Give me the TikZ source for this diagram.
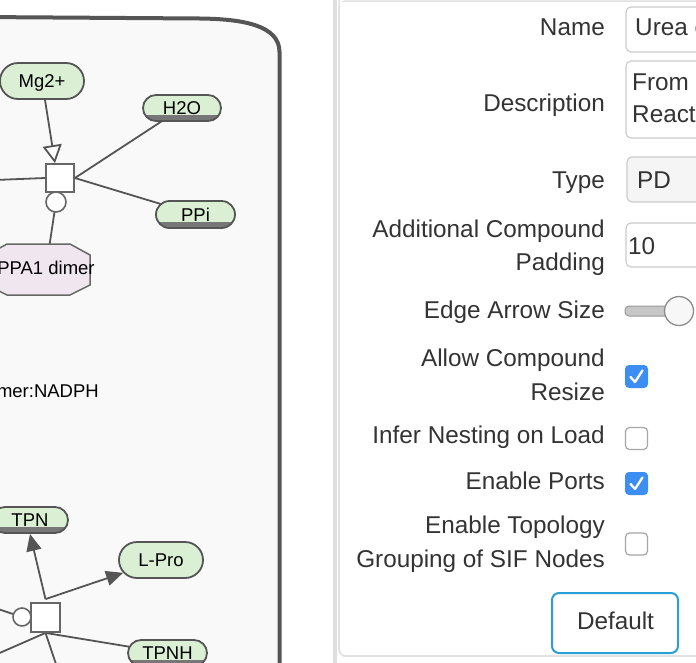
\documentclass[tikz,border=0pt]{standalone}
\usepackage{fontspec}
\setmainfont{Liberation Sans}
\usetikzlibrary{arrows.meta,shapes.misc}
\pgfdeclarelayer{back}
\pgfdeclarelayer{edges}
\pgfsetlayers{back,edges,main}
\definecolor{edgecol}{HTML}{555555}
\definecolor{compfill}{HTML}{F9F9F9}
\definecolor{pillfill}{HTML}{DAEFD4}
\definecolor{clonecol}{HTML}{777777}
\definecolor{octfill}{HTML}{F0E6F0}
\definecolor{txtcol}{HTML}{333333}
\definecolor{boxline}{HTML}{CCCCCC}
\definecolor{chkblue}{HTML}{3C8EF3}
\definecolor{btnblue}{HTML}{2A9FD6}
\definecolor{divcol}{HTML}{DEDEDE}
\tikzset{
  dfont/.style={font=\fontsize{18.5}{22}\selectfont},
  pfont/.style={font=\fontsize{24.3}{28}\selectfont, text=txtcol},
  pill/.style={rounded rectangle, draw=edgecol, line width=1.8pt, fill=pillfill, inner sep=0pt, dfont, text height=13.2pt, text depth=0pt},
  clone/.style={path picture={\fill[clonecol] (path picture bounding box.south west) rectangle ([yshift=6pt]path picture bounding box.south east);}},
  procbox/.style={rectangle, draw=edgecol!90, line width=1.8pt, fill=white, minimum size=28pt, inner sep=0pt},
  modcirc/.style={circle, draw=edgecol!90, line width=1.6pt, fill=white, inner sep=0pt},
  edge/.style={draw=edgecol, line width=1.8pt},
  fillhead/.style={-{Triangle[length=17pt,width=15pt]}},
  openhead/.style={-{Triangle[length=18pt,width=19pt,fill=white]}},
  lab/.style={pfont, anchor=base east, inner sep=0pt},
  val/.style={pfont, anchor=base west, inner sep=0pt},
  field/.style={draw=boxline, line width=1.2pt, rounded corners=5pt, fill=white},
  chkon/.style={rectangle, rounded corners=4pt, fill=chkblue, minimum size=23pt, inner sep=0pt},
  chkoff/.style={rectangle, rounded corners=4pt, draw=black!35, line width=1.2pt, fill=white, minimum size=22pt, inner sep=0pt},
  tick/.style={draw=white, line width=2.3pt, line cap=round, line join=round},
}
\begin{document}
\begin{tikzpicture}[x=1pt,y=-1pt]
\useasboundingbox (0,0) rectangle (696,662);

% background and compartment
\begin{pgfonlayer}{back}
\fill[white] (0,0) rectangle (696,662);
\path[fill=compfill] (-20,17) -- (200,18.5) .. controls (242,19) and (279.5,25) .. (279.5,52) -- (279.5,680) -- (-20,680) -- cycle;
\draw[draw=edgecol, line width=4pt] (-20,17) -- (200,18.5) .. controls (242,19) and (279.5,25) .. (279.5,52) -- (279.5,680);
\end{pgfonlayer}

% nodes, upper process
\node[pill, minimum width=84pt, minimum height=36pt] (mg) at (42,81) {Mg2+};
\node[pill, clone, minimum width=78pt, minimum height=26pt] (h2o) at (182,108) {H2O};
\node[pill, clone, minimum width=79pt, minimum height=27pt] (ppi) at (195.5,214.5) {PPi};
\node[procbox] (p1) at (60,178) {};
\node[modcirc, minimum size=20pt] (c1) at (56,202) {};
\draw[fill=octfill, draw=edgecol!90, line width=1.5pt] (7,244) -- (70,244) -- (90,255) -- (90,285) -- (70,295) -- (7,295) -- (-13,285) -- (-13,255) -- cycle;
\node[dfont, inner sep=0pt, text height=13.2pt, text depth=0pt] (ppa) at (46,268.3) {PPA1 dimer};
\node[dfont, anchor=base east, inner sep=0pt] (nadph) at (99,397) {mer:NADPH};

% nodes, lower process
\node[pill, clone, minimum width=76pt, minimum height=26pt] (tpn) at (30,520) {TPN};
\node[pill, minimum width=84pt, minimum height=36pt] (lpro) at (161,560) {L-Pro};
\node[pill, clone, minimum width=79pt, minimum height=26pt] (tpnh) at (167.5,653) {TPNH};
\node[procbox, minimum size=29pt] (p2) at (45.5,617.5) {};
\node[modcirc, minimum size=18pt] (c2) at (22,617) {};

\coordinate (in1) at (-5,180);
\coordinate (in2) at (-5,608);
\coordinate (out1) at (-5,655);
\coordinate (out2) at (58,670);

\begin{pgfonlayer}{edges}
\draw[edge] (in1) -- (p1.west);
\draw[edge] (p1.east) -- (h2o.center);
\draw[edge] (p1.east) -- (ppi.center);
\draw[edge] (c1.center) -- (ppa.center);
\draw[edge] (in2) -- (c2.center);
\draw[edge] (p2.south) -- (tpnh.center);
\draw[edge] (p2.south) -- (out1);
\draw[edge] (p2.south) -- (out2);
\end{pgfonlayer}
\draw[edge, openhead] (mg) -- ([xshift=-5pt]p1.north);
\draw[edge, fillhead] ([yshift=3pt]p2.north) -- (tpn.south);
\draw[edge, fillhead] ([yshift=3pt]p2.north) -- (lpro);

% divider and panel
\fill[divcol] (333,-2) rectangle (337,665);
\draw[draw=black!12, line width=1.5pt, fill=white, rounded corners=7pt] (339,1) -- (720,1) -- (720,656) -- (339,656) -- cycle;
\fill[white] (339.8,2) rectangle (720,655);
\draw[draw=black!12, line width=1.5pt, rounded corners=7pt] (339,-10) -- (339,656) -- (720,656);

% labels
\node[lab] (lname) at (605,35) {Name};
\node[lab] (ldesc) at (605,111) {Description};
\node[lab] (ltype) at (605,188) {Type};
\node[lab] (lpad1) at (605,237) {Additional Compound};
\node[lab] (lpad2) at (605,270) {Padding};
\node[lab] (larrow) at (605,318) {Edge Arrow Size};
\node[lab] (lres1) at (605,366) {Allow Compound};
\node[lab] (lres2) at (605,400) {Resize};
\node[lab] (lnest) at (605,443) {Infer Nesting on Load};
\node[lab] (lports) at (605,489) {Enable Ports};
\node[lab] (ltop1) at (605,533) {Enable Topology};
\node[lab] (ltop2) at (605,567) {Grouping of SIF Nodes};

% fields
\draw[field] (626,7) rectangle (730,52);
\node[val] (vname) at (635,35) {Urea c};
\draw[field] (626,61) rectangle (730,138);
\node[val] (vdesc1) at (632,90) {From};
\node[val] (vdesc2) at (632,122) {Reacto};
\draw[field, fill=black!4] (627,157) rectangle (730,202);
\node[val] (vtype) at (637,188) {PD};
\draw[field] (626,223) rectangle (730,267);
\node[val] (vpad) at (628,254) {10};

% slider
\draw[draw=black!40, line width=1pt, fill=black!22, rounded corners=4pt] (625,306) rectangle (682,316);
\draw[draw=black!45, line width=1.3pt, fill=black!3] (679,311) circle (14.5pt);

% checkboxes
\node[chkon] (cb1) at (636.5,376.5) {};
\draw[tick] (630.5,377) -- (635,382) -- (642.5,370.5);
\node[chkoff] (cb2) at (636.5,438.5) {};
\node[chkon] (cb3) at (636.5,483.5) {};
\draw[tick] (630.5,484) -- (635,489) -- (642.5,477.5);
\node[chkoff] (cb4) at (636.5,544) {};

% button
\draw[draw=btnblue, line width=2pt, rounded corners=7pt, fill=white] (552,593) rectangle (678,653);
\node[pfont, anchor=base, inner sep=0pt] (btn) at (615.5,629) {Default};
\end{tikzpicture}
\end{document}
